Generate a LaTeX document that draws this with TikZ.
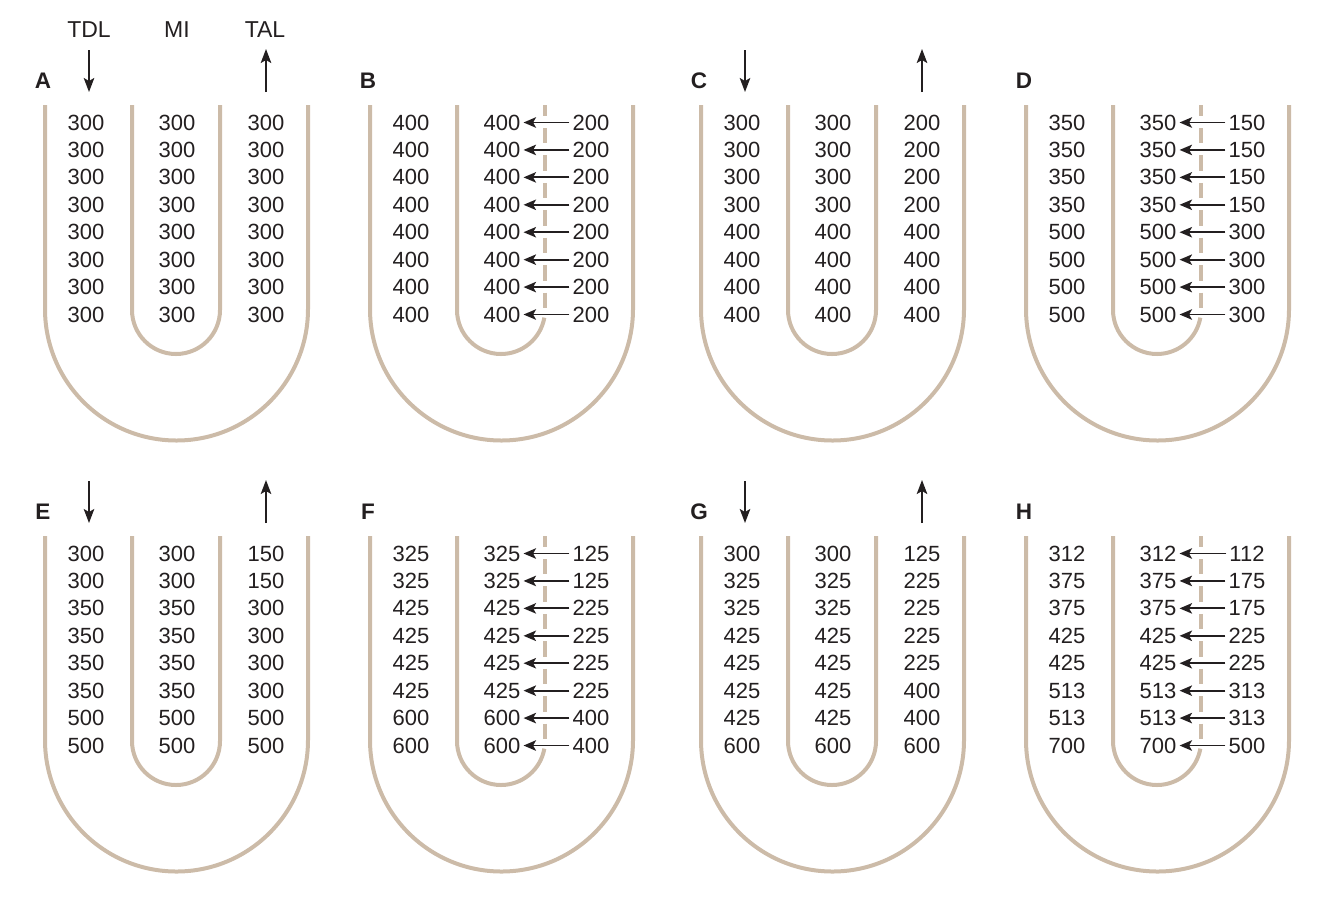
\documentclass[tikz,border=0pt]{standalone}
\usepackage{fontspec}
\setmainfont{Liberation Sans}
\usetikzlibrary{arrows.meta}
\definecolor{wall}{RGB}{204,187,168}
\definecolor{ink}{RGB}{35,31,32}
\tikzset{
  wallline/.style={draw=wall, line width=4pt},
  num/.style={inner sep=0pt, text=ink, font=\fontsize{22}{26}\selectfont},
  hdr/.style={inner sep=0pt, text=ink, font=\fontsize{23}{27}\selectfont},
  plbl/.style={inner sep=0pt, text=ink, font=\fontsize{22.5}{27}\selectfont\bfseries},
  flowarr/.style={draw=ink, line width=1.8pt, -{Stealth[length=14pt,width=10.5pt,inset=3pt]}},
  pumparr/.style={draw=ink, line width=1.8pt, shorten >=3pt, shorten <=3pt, -{Stealth[length=12.5pt,width=10.5pt,inset=3pt]}}
}
\newcommand{\kidpanel}[5]{%
\begin{scope}[shift={(#2,-#3)}]
  \node[plbl] (#1-lab) at (43,-81) {#1};
  \draw[wallline] (45,-105) -- (45,-309) arc (180:360:131.5) -- (308,-105);
  \ifnum#4=0
    \draw[wallline] (132,-105) -- (132,-310) arc (180:360:44) -- (220,-105);
    \coordinate (#1-dtop) at (89,-50);
    \coordinate (#1-dbot) at (89,-92);
    \coordinate (#1-ubot) at (266,-92);
    \coordinate (#1-utop) at (266,-49);
    \draw[flowarr] (#1-dtop) -- (#1-dbot);
    \draw[flowarr] (#1-ubot) -- (#1-utop);
  \else
    \draw[wallline] (132,-105) -- (132,-310) arc (180:350:44);
    \draw[wallline] (220,-105) -- (220,-116);
    \foreach \k in {1,...,7} {
      \draw[wallline] (220,{-122-27.43*(\k-1)-6}) -- (220,{-122-27.43*\k+6});
    }
  \fi
  \foreach \l/\r [count=\i] in {#5} {
    \node[num] (#1-l\i) at (86,{-122.5-27.43*(\i-1)}) {\l};
    \node[num] (#1-m\i) at (177,{-122.5-27.43*(\i-1)}) {\l};
    \node[num] (#1-r\i) at (266,{-122.5-27.43*(\i-1)}) {\r};
    \ifnum#4=1 \draw[pumparr] (#1-r\i) -- (#1-m\i); \fi
  }
\end{scope}}
\begin{document}
\begin{tikzpicture}[x=1pt,y=1pt]
\useasboundingbox (0,0) rectangle (1329,-898);
\node[hdr] (tdl) at (89,-30) {TDL};
\node[hdr] (mi) at (177,-30) {MI};
\node[hdr] (tal) at (265,-30) {TAL};
\kidpanel{A}{0}{0}{0}{300/300,300/300,300/300,300/300,300/300,300/300,300/300,300/300}
\kidpanel{B}{325}{0}{1}{400/200,400/200,400/200,400/200,400/200,400/200,400/200,400/200}
\kidpanel{C}{656}{0}{0}{300/200,300/200,300/200,300/200,400/400,400/400,400/400,400/400}
\kidpanel{D}{981}{0}{1}{350/150,350/150,350/150,350/150,500/300,500/300,500/300,500/300}
\kidpanel{E}{0}{431}{0}{300/150,300/150,350/300,350/300,350/300,350/300,500/500,500/500}
\kidpanel{F}{325}{431}{1}{325/125,325/125,425/225,425/225,425/225,425/225,600/400,600/400}
\kidpanel{G}{656}{431}{0}{300/125,325/225,325/225,425/225,425/225,425/400,425/400,600/600}
\kidpanel{H}{981}{431}{1}{312/112,375/175,375/175,425/225,425/225,513/313,513/313,700/500}
\end{tikzpicture}
\end{document}
